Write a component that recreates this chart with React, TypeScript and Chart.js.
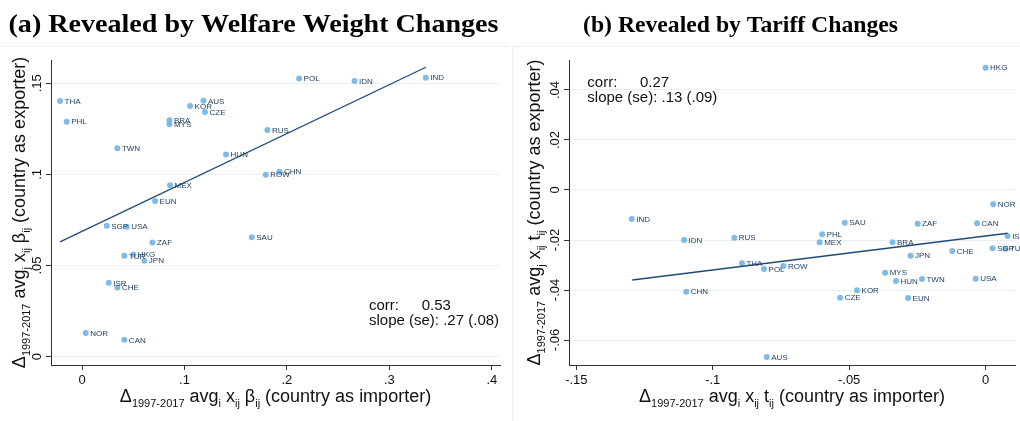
import React, { useRef, useEffect } from "react";
import { Chart, registerables } from "chart.js";

Chart.register(...registerables);

// panel (a): welfare weight changes
const codesA = ["THA", "PHL", "TWN", "BRA", "MYS", "KOR", "AUS", "CZE", "HUN", "MEX", "EUN", "SGP", "USA", "ZAF", "SAU", "POL", "IDN", "IND", "RUS", "CHN", "ROW", "TUR", "HKG", "JPN", "ISR", "CHE", "NOR", "CAN"];
const xA = [-0.0215, -0.015, 0.0345, 0.0853, 0.0853, 0.1055, 0.1185, 0.12, 0.1406, 0.0859, 0.0713, 0.0241, 0.0436, 0.0687, 0.1657, 0.2119, 0.266, 0.3356, 0.181, 0.1927, 0.1794, 0.0413, 0.0501, 0.0608, 0.0261, 0.0345, 0.0036, 0.0413];
const yA = [0.1403, 0.1289, 0.1143, 0.1298, 0.1275, 0.1375, 0.1404, 0.1342, 0.111, 0.094, 0.0854, 0.0718, 0.0713, 0.0627, 0.0655, 0.1527, 0.1513, 0.1531, 0.1244, 0.1015, 0.0998, 0.0553, 0.056, 0.0526, 0.0405, 0.0379, 0.0129, 0.0092];
const fitXA = [-0.0215, 0.3356];
const fitYA = [0.063, 0.1588];
const xTicksA = [0, 0.1, 0.2, 0.3, 0.4];
const xTickLabelsA = ["0", ".1", ".2", ".3", ".4"];
const yTicksA = [0, 0.05, 0.1, 0.15];
const yTickLabelsA = ["0", ".05", ".1", ".15"];
const statsA = ["0.53", ".27 (.08)"];

// panel (b): tariff changes
const codesB = ["IND", "IDN", "RUS", "HKG", "NOR", "SAU", "ZAF", "CAN", "PHL", "MEX", "BRA", "ISR", "CHE", "SGP", "TUR", "JPN", "POL", "ROW", "MYS", "HUN", "TWN", "USA", "KOR", "CZE", "EUN", "AUS", "THA", "CHN"];
const xB = [-0.1297, -0.1105, -0.0921, 0.0, 0.0028, -0.0516, -0.0249, -0.0031, -0.0599, -0.0608, -0.0341, 0.0081, -0.0122, 0.0026, 0.0073, -0.0275, -0.0812, -0.0741, -0.0368, -0.0328, -0.0233, -0.0036, -0.0471, -0.0533, -0.0284, -0.0802, -0.0893, -0.1097];
const yB = [-0.0116, -0.02, -0.0191, 0.0489, -0.0057, -0.0131, -0.0135, -0.0133, -0.0177, -0.0209, -0.0209, -0.0184, -0.0244, -0.0233, -0.0235, -0.0263, -0.0316, -0.0304, -0.0331, -0.0364, -0.0356, -0.0355, -0.0401, -0.0431, -0.0432, -0.0668, -0.0293, -0.0407];
const fitXB = [-0.1295, 0.0081];
const fitYB = [-0.036, -0.0173];
const xTicksB = [-0.15, -0.1, -0.05, 0];
const xTickLabelsB = ["-.15", "-.1", "-.05", "0"];
const yTicksB = [-0.06, -0.04, -0.02, 0, 0.02, 0.04];
const yTickLabelsB = ["-.06", "-.04", "-.02", "0", ".02", ".04"];
const statsB = ["0.27", ".13 (.09)"];

type Seg = { t: string; sub?: boolean };

const axisTitle = (avg: string, v: string, role: string): Seg[] => [
  { t: "Δ" },
  { t: "1997-2017", sub: true },
  { t: " avg" },
  { t: avg, sub: true },
  { t: " x" },
  { t: "ij", sub: true },
  { t: " " + v },
  { t: "ij", sub: true },
  { t: " (country as " + role + ")" },
];

const SANS = '"Liberation Sans", Arial, Helvetica, sans-serif';
const DOT = "#80bbe7";
const NAVY = "#1f4a78";
const LABEL = "#1d3a5c";
const GRID = "#e7f0f3";
const AXIS = "#333333";

function drawRich(ctx: CanvasRenderingContext2D, segs: Seg[], cx: number, base: number) {
  const main = `18px ${SANS}`;
  const sub = `11px ${SANS}`;
  const widths = segs.map((s) => {
    ctx.font = s.sub ? sub : main;
    return ctx.measureText(s.t).width;
  });
  const total = widths.reduce((a, b) => a + b, 0);
  let x = cx - total / 2;
  ctx.textAlign = "left";
  ctx.textBaseline = "alphabetic";
  segs.forEach((s, i) => {
    ctx.font = s.sub ? sub : main;
    ctx.fillText(s.t, x, base + (s.sub ? 5 : 0));
    x += widths[i];
  });
}

type PanelProps = {
  codes: string[];
  xs: number[];
  ys: number[];
  fitX: number[];
  fitY: number[];
  xMin: number;
  xMax: number;
  yMin: number;
  yMax: number;
  xTicks: number[];
  xTickLabels: string[];
  yTicks: number[];
  yTickLabels: string[];
  stats: string[];
  area: { left: number; top: number; right: number; bottom: number };
  title: string;
  titleX: number;
  titleW: number;
  titleSize: number;
  yTitleX: number;
  xTitle: Seg[];
  yTitle: Seg[];
  statsPos: { x: number; y: number; valX: number };
  leftBorder: boolean;
};

const W = 510;
const H = 421;

const Panel = (p: PanelProps) => {
  const chartRef = useRef<any>(null);
  const chartInstanceRef = useRef<any>(null);

  useEffect(() => {
    const ctx = chartRef.current.getContext("2d");
    if (chartInstanceRef.current) {
      chartInstanceRef.current.destroy();
    }

    const decor = {
      id: "decor",
      beforeDraw(chart: any) {
        const c = chart.ctx;
        c.save();
        c.fillStyle = "#ffffff";
        c.fillRect(0, 0, W, H);
        c.strokeStyle = "#eeeeee";
        c.lineWidth = 1;
        c.beginPath();
        c.moveTo(p.leftBorder ? 2 : 0, 46.5);
        c.lineTo(W, 46.5);
        if (p.leftBorder) {
          c.moveTo(2.5, 46);
          c.lineTo(2.5, H);
        }
        c.stroke();
        c.restore();
      },
      afterDraw(chart: any) {
        const c = chart.ctx;
        const sx = chart.scales.x;
        const sy = chart.scales.y;
        const ca = chart.chartArea;
        c.save();

        // point labels
        c.font = `8px ${SANS}`;
        c.fillStyle = LABEL;
        c.textAlign = "left";
        c.textBaseline = "middle";
        p.codes.forEach((code, i) => {
          c.fillText(code, sx.getPixelForValue(p.xs[i]) + 4.5, sy.getPixelForValue(p.ys[i]) + 0.5);
        });

        // rotated y tick labels
        c.font = `13px ${SANS}`;
        c.fillStyle = "#111111";
        c.textAlign = "center";
        c.textBaseline = "middle";
        p.yTicks.forEach((v, i) => {
          c.save();
          c.translate(ca.left - 14, sy.getPixelForValue(v));
          c.rotate(-Math.PI / 2);
          c.fillText(p.yTickLabels[i], 0, 0);
          c.restore();
        });

        // axis titles
        c.fillStyle = "#111111";
        drawRich(c, p.xTitle, (ca.left + ca.right) / 2, 401.5);
        c.save();
        c.translate(p.yTitleX, (ca.top + ca.bottom) / 2);
        c.rotate(-Math.PI / 2);
        drawRich(c, p.yTitle, 0, 0);
        c.restore();

        // correlation note
        c.font = `15px ${SANS}`;
        c.textAlign = "left";
        c.textBaseline = "middle";
        c.fillText("corr:", p.statsPos.x, p.statsPos.y);
        c.fillText(p.stats[0], p.statsPos.valX, p.statsPos.y);
        c.fillText("slope (se): " + p.stats[1], p.statsPos.x, p.statsPos.y + 15);

        // panel title, stretched to the width it has in the original
        c.font = `bold ${p.titleSize}px "Liberation Serif", "DejaVu Serif", serif`;
        c.fillStyle = "#000000";
        c.textAlign = "center";
        c.textBaseline = "alphabetic";
        const tw = c.measureText(p.title).width;
        c.translate(p.titleX, 32);
        c.scale(p.titleW / tw, 1);
        c.fillText(p.title, 0, 0);
        c.restore();
      },
    };

    chartInstanceRef.current = new Chart(ctx, {
      type: "scatter",
      data: {
        datasets: [
          {
            type: "line",
            data: p.fitX.map((x, i) => ({ x, y: p.fitY[i] })),
            borderColor: NAVY,
            borderWidth: 1.3,
            pointRadius: 0,
            showLine: true,
            fill: false,
            order: 1,
          } as any,
          {
            data: p.xs.map((x, i) => ({ x, y: p.ys[i] })),
            backgroundColor: DOT,
            borderWidth: 0,
            pointRadius: 3,
            order: 2,
          },
        ],
      },
      options: {
        animation: false,
        responsive: false,
        maintainAspectRatio: false,
        layout: { padding: { left: 0, top: p.area.top, right: W - p.area.right, bottom: 0 } },
        plugins: { legend: { display: false }, tooltip: { enabled: false } },
        scales: {
          x: {
            type: "linear",
            min: p.xMin,
            max: p.xMax,
            afterBuildTicks: (s: any) => {
              s.ticks = p.xTicks.map((value) => ({ value }));
            },
            afterFit: (s: any) => {
              s.height = H - p.area.bottom;
            },
            grid: { drawOnChartArea: false, drawTicks: true, tickLength: 5, tickColor: AXIS },
            border: { display: true, color: AXIS, width: 1 },
            ticks: {
              color: "#111111",
              font: { family: SANS, size: 13 },
              padding: 3,
              maxRotation: 0,
              callback: (_v: any, i: number) => p.xTickLabels[i],
            },
          },
          y: {
            type: "linear",
            min: p.yMin,
            max: p.yMax,
            afterBuildTicks: (s: any) => {
              s.ticks = p.yTicks.map((value) => ({ value }));
            },
            afterFit: (s: any) => {
              s.width = p.area.left;
            },
            grid: { color: GRID, lineWidth: 1, drawTicks: true, tickLength: 5, tickColor: AXIS },
            border: { display: true, color: AXIS, width: 1 },
            ticks: { display: false },
          },
        },
      },
      plugins: [decor],
    });

    return () => {
      if (chartInstanceRef.current) {
        chartInstanceRef.current.destroy();
      }
    };
  }, []);

  return <canvas ref={chartRef} width={W} height={H} style={{ display: "block", width: W, height: H }} />;
};

export default function App() {
  return (
    <div style={{ position: "absolute", top: 0, left: 0, width: 1020, height: 421, display: "flex", background: "#fff", overflow: "hidden" }}>
      <Panel
        codes={codesA}
        xs={xA}
        ys={yA}
        fitX={fitXA}
        fitY={fitYA}
        xMin={-0.0303}
        xMax={0.408}
        yMin={-0.0046}
        yMax={0.1628}
        xTicks={xTicksA}
        xTickLabels={xTickLabelsA}
        yTicks={yTicksA}
        yTickLabels={yTickLabelsA}
        stats={statsA}
        area={{ left: 51, top: 60, right: 500, bottom: 365 }}
        title="(a) Revealed by Welfare Weight Changes"
        titleX={253.5}
        titleW={490}
        titleSize={25}
        yTitleX={24.6}
        xTitle={axisTitle("i", "β", "importer")}
        yTitle={axisTitle("j", "β", "exporter")}
        statsPos={{ x: 369, y: 306, valX: 421.7 }}
        leftBorder={false}
      />
      <Panel
        codes={codesB}
        xs={xB}
        ys={yB}
        fitX={fitXB}
        fitY={fitYB}
        xMin={-0.1527}
        xMax={0.0108}
        yMin={-0.07}
        yMax={0.052}
        xTicks={xTicksB}
        xTickLabels={xTickLabelsB}
        yTicks={yTicksB}
        yTickLabels={yTickLabelsB}
        stats={statsB}
        area={{ left: 59, top: 60, right: 505, bottom: 365 }}
        title="(b) Revealed by Tariff Changes"
        titleX={230.5}
        titleW={315}
        titleSize={24}
        yTitleX={29.5}
        xTitle={axisTitle("i", "t", "importer")}
        yTitle={axisTitle("j", "t", "exporter")}
        statsPos={{ x: 77.3, y: 83.3, valX: 130 }}
        leftBorder={true}
      />
    </div>
  );
}
